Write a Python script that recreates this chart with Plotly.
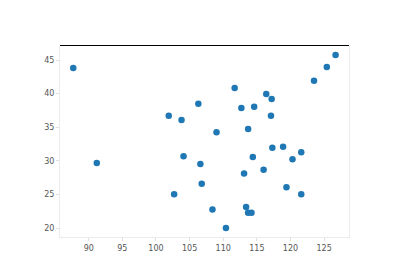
import plotly.graph_objects as go

x_vals = [87.7, 91.2, 101.9, 103.8, 106.3, 104.1, 106.6, 106.8, 102.7, 108.4,
          110.4, 111.7, 109.0, 112.7, 114.6, 113.7, 116.4, 117.2, 117.1, 113.1,
          114.4, 116.0, 117.3, 118.9, 121.6, 120.3, 119.4, 121.6, 113.4, 113.7,
          114.2, 123.5, 125.4, 126.7]
y_vals = [43.8, 29.7, 36.7, 36.1, 38.5, 30.7, 29.55, 26.6, 25.05, 22.8,
          20.05, 40.85, 34.25, 37.85, 38.05, 34.75, 39.95, 39.2, 36.7, 28.15,
          30.6, 28.7, 31.95, 32.1, 31.3, 30.25, 26.1, 25.05, 23.15, 22.3,
          22.3, 41.9, 43.95, 45.75]

x_ticks = [90, 95, 100, 105, 110, 115, 120, 125]
y_ticks = [20, 25, 30, 35, 40, 45]

fig = go.Figure(go.Scatter(
    x=x_vals, y=y_vals, mode="markers",
    marker=dict(color="#1f77b4", size=6.5, line=dict(width=0)),
))

top = 1 + 0.5 / 191
fig.update_layout(
    width=400, height=280,
    margin=dict(l=60, r=51, t=46, b=43),
    paper_bgcolor="white", plot_bgcolor="white",
    font=dict(family="DejaVu Sans", size=8, color="#555"),
    showlegend=False,
    shapes=[dict(type="line", xref="paper", yref="paper", x0=0, x1=1, y0=top, y1=top,
                 line=dict(color="black", width=1))],
)
fig.update_xaxes(range=[85.73, 128.7], tickvals=x_ticks, showgrid=False, zeroline=False,
                 showline=True, linecolor="#ececec", linewidth=1, mirror=False,
                 ticks="outside", ticklen=3, tickcolor="#e0e0e0")
fig.update_yaxes(range=[18.7, 47.08], tickvals=y_ticks, showgrid=False, zeroline=False,
                 showline=True, linecolor="#ececec", linewidth=1, mirror=True,
                 ticks="outside", ticklen=3, tickcolor="#e0e0e0")

fig.write_html("out.html")
